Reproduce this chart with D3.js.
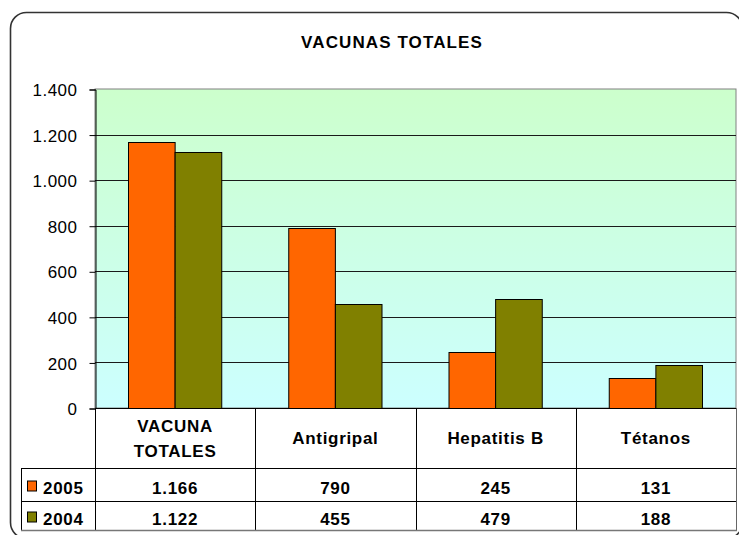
<!DOCTYPE html>
<html>
<head>
<meta charset="utf-8">
<script src="https://cdn.jsdelivr.net/npm/d3@7"></script>
<style>
  html, body { margin: 0; padding: 0; background: #fff; }
  svg { display: block; font-family: "Liberation Sans", Arial, sans-serif; }
</style>
</head>
<body>
<svg id="chart" width="739" height="535"></svg>
<script>
// ---- data ----
const categories = ["VACUNA TOTALES", "Antigripal", "Hepatitis B", "Tétanos"];
const categoryLines = [["VACUNA", "TOTALES"], ["Antigripal"], ["Hepatitis B"], ["Tétanos"]];
const seriesNames = ["2005", "2004"];
const values2005 = [1166, 790, 245, 131];
const values2004 = [1122, 455, 479, 188];
const yTicks = [0, 200, 400, 600, 800, 1000, 1200, 1400];
const title = "VACUNAS TOTALES";

const seriesValues = { "2005": values2005, "2004": values2004 };
const colors = { "2005": "#FF6600", "2004": "#808000" };

const loc = d3.formatLocale({ decimal: ",", thousands: ".", grouping: [3], currency: ["", ""] });
const fmt = loc.format(",d");

const svg = d3.select("#chart");

// layout
const plot = { left: 95, right: 736, top: 89, bottom: 408 };
const tableLeft = 21;
const rowHeader = 468, row1 = 501, rowEnd = 530;

// outer rounded border
svg.append("rect")
  .attr("x", 10.5).attr("y", 12.5)
  .attr("width", 732).attr("height", 526)
  .attr("rx", 16).attr("ry", 16)
  .attr("fill", "#fff").attr("stroke", "#333").attr("stroke-width", 1.6);

// title
svg.append("text")
  .attr("x", 392).attr("y", 48)
  .attr("text-anchor", "middle")
  .attr("font-size", 17).attr("font-weight", "bold")
  .attr("letter-spacing", 1.1)
  .attr("fill", "#000")
  .text(title);

// scales
const x0 = d3.scaleBand().domain(categories).range([plot.left, plot.right]).padding(0);
const x1 = d3.scaleBand().domain(seriesNames).range([33, x0.bandwidth() - 34]).padding(0);
const y = d3.scaleLinear().domain([0, 1400]).range([plot.bottom, plot.top]);

// gradient background
const defs = svg.append("defs");
const grad = defs.append("linearGradient").attr("id", "bg")
  .attr("x1", 0).attr("y1", 0).attr("x2", 0).attr("y2", 1);
grad.append("stop").attr("offset", "0%").attr("stop-color", "#CCFFCC");
grad.append("stop").attr("offset", "100%").attr("stop-color", "#CCFFFF");

svg.append("rect")
  .attr("x", plot.left).attr("y", plot.top)
  .attr("width", plot.right - plot.left).attr("height", plot.bottom - plot.top)
  .attr("fill", "url(#bg)")
  .attr("stroke", "#808080").attr("stroke-width", 1);

// gridlines
svg.append("g").selectAll("line").data(yTicks.filter(d => d > 0 && d < 1400)).join("line")
  .attr("x1", plot.left).attr("x2", plot.right)
  .attr("y1", d => Math.round(y(d)) + 0.5).attr("y2", d => Math.round(y(d)) + 0.5)
  .attr("stroke", "#1a1a1a").attr("stroke-width", 1);

// y axis
const yAxis = d3.axisLeft(y).tickValues(yTicks).tickFormat(fmt).tickSize(6).tickPadding(12);
const gy = svg.append("g").attr("transform", `translate(${plot.left + 0.5},0.5)`).call(yAxis);
gy.select(".domain").attr("stroke", "#000");
gy.selectAll(".tick line").attr("stroke", "#000");
gy.selectAll(".tick text")
  .attr("font-size", 17).attr("fill", "#000")
  .attr("font-family", "Liberation Sans, Arial, sans-serif")
  .attr("letter-spacing", 0.5)
  .attr("dy", "0.36em");

// bars
const groups = svg.append("g").selectAll("g").data(categories).join("g")
  .attr("transform", d => `translate(${x0(d)},0)`);
groups.selectAll("rect").data((d, i) => seriesNames.map(s => ({ s, v: seriesValues[s][i] }))).join("rect")
  .attr("x", d => x1(d.s) + 0.5)
  .attr("y", d => Math.round(y(d.v)) + 0.5)
  .attr("width", x1.bandwidth())
  .attr("height", d => Math.round(y(0)) - Math.round(y(d.v)))
  .attr("fill", d => colors[d.s])
  .attr("stroke", "#000").attr("stroke-width", 1);

// x axis base line
svg.append("line")
  .attr("x1", plot.left).attr("x2", plot.right)
  .attr("y1", plot.bottom + 0.5).attr("y2", plot.bottom + 0.5)
  .attr("stroke", "#000");

// data table
const tg = svg.append("g").attr("stroke", "#000").attr("stroke-width", 1);
const vxs = categories.map(c => x0(c)).concat([plot.right]);
vxs.forEach((vx, i) => {
  tg.append("line")
    .attr("x1", Math.round(vx) + 0.5).attr("x2", Math.round(vx) + 0.5)
    .attr("y1", plot.bottom).attr("y2", rowEnd)
    .attr("stroke", i === vxs.length - 1 ? "#666" : "#000");
});
tg.append("line").attr("x1", tableLeft + 0.5).attr("x2", tableLeft + 0.5)
  .attr("y1", rowHeader).attr("y2", rowEnd);
[rowHeader, row1].forEach(ry => {
  tg.append("line").attr("x1", tableLeft).attr("x2", plot.right)
    .attr("y1", ry + 0.5).attr("y2", ry + 0.5);
});
tg.append("line").attr("x1", tableLeft).attr("x2", plot.right + 1)
  .attr("y1", rowEnd + 0.5).attr("y2", rowEnd + 0.5).attr("stroke", "#777").attr("stroke-width", 1.5);

// header labels
const hc = (plot.bottom + rowHeader) / 2;
categories.forEach((c, i) => {
  const lines = categoryLines[i];
  const lh = 25;
  const t = svg.append("text")
    .attr("text-anchor", "middle")
    .attr("font-size", 17).attr("font-weight", "bold")
    .attr("letter-spacing", 0.7)
    .attr("fill", "#000");
  lines.forEach((ln, j) => {
    t.append("tspan")
      .attr("x", x0(c) + x0.bandwidth() / 2)
      .attr("y", hc + (j - (lines.length - 1) / 2) * lh + 6)
      .text(ln);
  });
});

// rows
const rowsY = [[rowHeader, row1], [row1, rowEnd]];
seriesNames.forEach((s, si) => {
  const [ya, yb] = rowsY[si];
  const base = (ya + yb) / 2 + 9;
  svg.append("rect")
    .attr("x", 27.5).attr("y", base - 12.5)
    .attr("width", 9).attr("height", 10)
    .attr("fill", colors[s]).attr("stroke", "#000").attr("stroke-width", 1);
  svg.append("text")
    .attr("x", 43).attr("y", base)
    .attr("font-size", 17).attr("font-weight", "bold")
    .attr("letter-spacing", 0.7)
    .attr("fill", "#000")
    .text(s);
  categories.forEach((c, i) => {
    svg.append("text")
      .attr("x", x0(c) + x0.bandwidth() / 2).attr("y", base)
      .attr("text-anchor", "middle")
      .attr("font-size", 17).attr("font-weight", "bold")
      .attr("letter-spacing", 0.7)
      .attr("fill", "#000")
      .text(fmt(seriesValues[s][i]));
  });
});
</script>
</body>
</html>
